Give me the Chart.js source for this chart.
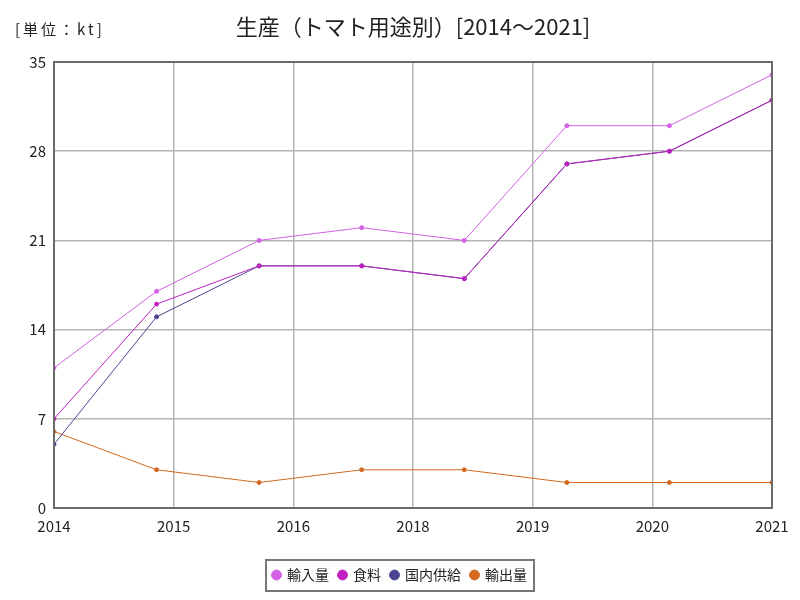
<!DOCTYPE html>
<html><head><meta charset="utf-8">
<script src="https://cdn.jsdelivr.net/npm/chart.js@4/dist/chart.umd.min.js"></script>
<style>html,body{margin:0;padding:0;background:#fff}</style>
</head><body>
<canvas id="c" width="800" height="600"></canvas>
<script>
const years = ['2014','2015','2016','2017','2018','2019','2020','2021'];
const xTickLabels = ['2014','2015','2016','2018','2019','2020','2021'];
const yTicks = [0,7,14,21,28,35];
const seriesNames = ['輸入量','食料','国内供給','輸出量'];
const importVol = [11,17,21,22,21,30,30,34];
const food = [7,16,19,19,18,27,28,32];
const domestic = [5,15,19,19,18,27,28,32];
const exportVol = [6,3,2,3,3,2,2,2];
const colors = ['#d460e6','#c020c0','#4b4590','#d2691e'];
const FONT = '"Noto Sans CJK JP", sans-serif';
const titleText = '生産（トマト用途別）[2014～2021]';
const unitText = '[単位：kt]';

const toPts = arr => arr.map((v,i)=>({x:i,y:v}));
const allSeries = [importVol, food, domestic, exportVol];

const extras = {
  id:'extras',
  afterDraw(chart){
    const ctx = chart.ctx, a = chart.chartArea;
    ctx.save();
    ctx.strokeStyle = '#6a6a6a'; ctx.lineWidth = 2;
    ctx.strokeRect(a.left, a.top, a.right-a.left, a.bottom-a.top);
    const lg = chart.legend;
    const hb = lg.legendHitBoxes;
    if (hb && hb.length){
      const l = Math.min(...hb.map(b=>b.left)) - 7;
      const r = Math.max(...hb.map(b=>b.left+b.width)) + 7;
      const t = Math.min(...hb.map(b=>b.top));
      const cy = t + hb[0].height/2;
      ctx.strokeStyle = '#777'; ctx.lineWidth = 2;
      ctx.strokeRect(l, cy-15, r-l, 31);
    }
    ctx.fillStyle = '#222';
    ctx.textBaseline = 'middle';
    ctx.textAlign = 'center';
    ctx.font = '22px ' + FONT;
    ctx.fillText(titleText, (a.left+a.right)/2, 27);
    ctx.textAlign = 'left';
    ctx.font = '15px ' + FONT;
    ctx.letterSpacing = '3px';
    ctx.fillText(unitText, 15, 29);
    ctx.restore();
  }
};

new Chart(document.getElementById('c'), {
  type:'line',
  data:{
    datasets: allSeries.map((arr,i)=>({
      label: seriesNames[i],
      data: toPts(arr),
      borderColor: colors[i],
      backgroundColor: colors[i],
      borderWidth: 1,
      pointRadius: 2,
      pointHoverRadius: 2,
      tension: 0
    }))
  },
  options:{
    responsive:false,
    animation:false,
    layout:{padding:{left:0,right:0,top:62,bottom:8}},
    plugins:{
      title:{display:false},
      legend:{position:'bottom',
        labels:{usePointStyle:true,pointStyle:'circle',boxWidth:7,boxHeight:7,padding:10,
          color:'#222',font:{family:FONT,size:14}}},
      tooltip:{enabled:false}
    },
    scales:{
      x:{type:'linear',min:0,max:7,
        afterBuildTicks(s){ s.ticks = xTickLabels.map((t,k)=>({value:k*7/(xTickLabels.length-1)})); },
        ticks:{autoSkip:false,maxRotation:0,color:'#222',font:{family:FONT,size:15},padding:9,
          callback:(v,idx)=>xTickLabels[idx]},
        grid:{color:'#b4b4b4',lineWidth:1.5,drawTicks:false},
        border:{color:'#6a6a6a',width:2},
        afterFit(s){ s.height = 50; }
      },
      y:{min:0,max:35,
        afterBuildTicks(s){ s.ticks = yTicks.map(v=>({value:v})); },
        ticks:{color:'#222',font:{family:FONT,size:15},padding:8},
        grid:{color:'#b4b4b4',lineWidth:1.5,drawTicks:false},
        border:{color:'#6a6a6a',width:2},
        afterFit(s){ s.width = 54; }
      },
      yR:{position:'right',min:0,max:35,
        ticks:{display:false},
        grid:{display:false,drawTicks:false},
        border:{display:false},
        afterFit(s){ s.width = 28; }
      }
    }
  },
  plugins:[extras]
});
</script>
</body></html>
